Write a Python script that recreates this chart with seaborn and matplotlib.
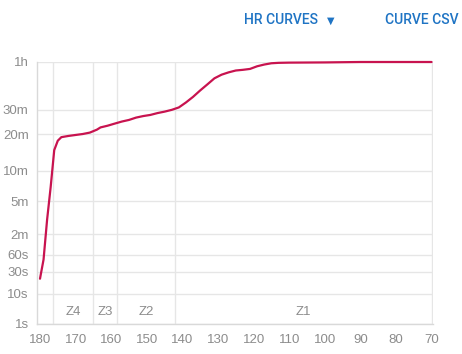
import numpy as np
import pandas as pd
import matplotlib
matplotlib.use("Agg")
import matplotlib.pyplot as plt
import matplotlib.transforms as mtransforms
import seaborn as sns

# ---- data ----
hr = [180, 179, 178, 177, 176, 175, 174, 172, 170, 168, 166, 164, 163, 161, 159,
      157, 155, 153, 151, 149, 147, 145, 143, 141, 139, 137, 135, 133, 131, 129,
      127, 125, 123, 121, 119, 117, 115, 113, 110, 105, 100, 95, 90, 80, 70]
seconds = [22, 50, 185, 420, 900, 1070, 1140, 1165, 1185, 1205, 1235, 1300, 1350, 1390, 1440,
           1490, 1530, 1590, 1630, 1660, 1710, 1750, 1800, 1870, 2020, 2200, 2420, 2640, 2880, 3030,
           3130, 3210, 3240, 3280, 3400, 3480, 3540, 3560, 3570, 3575, 3580, 3590, 3600, 3600, 3600]
ytick_vals = [1, 10, 30, 60, 120, 300, 600, 1200, 1800, 3600]
ytick_labels = ["1s", "10s", "30s", "60s", "2m", "5m", "10m", "20m", "30m", "1h"]
xtick_vals = [180, 170, 160, 150, 140, 130, 120, 110, 100, 90, 80, 70]
zone_bounds = [176.3, 165.2, 158.3, 142.0, 69.75]
zone_labels = ["Z4", "Z3", "Z2", "Z1"]

df = pd.DataFrame({"hr": hr, "seconds": seconds})

sns.set_style("white")
plt.rcParams["font.family"] = ["Liberation Sans", "DejaVu Sans"]

fig = plt.figure(figsize=(4.62, 3.54), dpi=100)
ax = fig.add_axes([37 / 462, 30 / 354, 396 / 462, 262 / 354])

grid_c = "#e6e6e6"
txt_c = "#8c8c8c"
line_c = "#c8134f"

fwd = lambda v: np.sign(v) * np.abs(v) ** 0.25
inv = lambda v: np.sign(v) * np.abs(v) ** 4
ax.set_yscale("function", functions=(fwd, inv))

for yv in ytick_vals:
    ax.axhline(yv, color=grid_c, lw=1, zorder=0)
for xb in zone_bounds:
    ax.axvline(xb, color=grid_c, lw=1, zorder=0)

sns.lineplot(data=df, x="hr", y="seconds", ax=ax, color=line_c, lw=1.6,
             clip_on=False, zorder=3)

ax.set_xlim(180.84, 69.6)
ax.set_ylim(1, 3600)
ax.set_yticks(ytick_vals)
ax.set_yticklabels(ytick_labels)
ax.set_xticks(xtick_vals)
ax.set_xticklabels([str(v) for v in xtick_vals])
ax.minorticks_off()
ax.set_xlabel("")
ax.set_ylabel("")

ax.tick_params(axis="both", colors=grid_c, labelcolor=txt_c, labelsize=9.5,
               length=5, width=1, pad=2)
ax.tick_params(axis="y", length=4)

for s in ["left", "bottom"]:
    ax.spines[s].set_color("#d9d9d9")
    ax.spines[s].set_linewidth(1)
ax.spines["top"].set_visible(False)
ax.spines["right"].set_visible(False)

trans = mtransforms.blended_transform_factory(ax.transData, ax.transAxes)
for i, lab in enumerate(zone_labels):
    cx = (zone_bounds[i] + zone_bounds[i + 1]) / 2
    ax.text(cx, 0.046, lab, transform=trans, ha="center", va="center",
            color=txt_c, fontsize=9.5)

blue = "#1f74c4"
fig.text(244 / 462, 1 - 20 / 354, "HR CURVES", color=blue, fontsize=10,
         family=["Roboto", "DejaVu Sans"], fontweight="medium", ha="left", va="center")
fig.text(331 / 462, 1 - 21 / 354, "\u25bc", color=blue, fontsize=7,
         family=["DejaVu Sans"], ha="center", va="center", transform=fig.transFigure)
fig.text(385 / 462, 1 - 20 / 354, "CURVE CSV", color=blue, fontsize=10,
         family=["Roboto", "DejaVu Sans"], fontweight="medium", ha="left", va="center")

fig.savefig("out.png", dpi=100)
